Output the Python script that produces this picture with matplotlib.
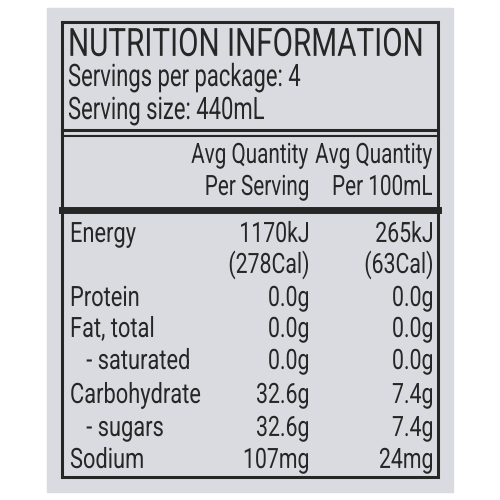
import matplotlib
matplotlib.use("Agg")
import matplotlib.pyplot as plt
from matplotlib.patches import Rectangle, PathPatch
from matplotlib.textpath import TextPath
from matplotlib.font_manager import FontProperties
from matplotlib.transforms import Affine2D

title = "NUTRITION INFORMATION"
servings = ["Servings per package: 4", "Serving size: 440mL"]
col_heads = [("Avg Quantity", "Per Serving"), ("Avg Quantity", "Per 100mL")]
nutrients = ["Energy", "", "Protein", "Fat, total", "   - saturated", "Carbohydrate", "   - sugars", "Sodium"]
per_serving = ["1170kJ", "(278Cal)", "0.0g", "0.0g", "0.0g", "32.6g", "32.6g", "107mg"]
per_100ml = ["265kJ", "(63Cal)", "0.0g", "0.0g", "0.0g", "7.4g", "7.4g", "24mg"]
row_y = [232, 263, 296, 327, 359, 393, 426, 458]

prop = FontProperties(family="Roboto")
ink = "#262626"
fig = plt.figure(figsize=(5, 5), dpi=100)
ax = fig.add_axes([0, 0, 1, 1])
ax.set_xlim(0, 500); ax.set_ylim(500, 0); ax.axis("off")
fig.patch.set_facecolor("white")
ax.add_patch(Rectangle((47, 8), 406, 484, color="#dadbe0", zorder=0))
ax.add_patch(Rectangle((62, 22), 376, 455, fill=False, lw=2.2, ec=ink))
ax.plot([62, 438], [130, 130], color=ink, lw=2.2)
ax.plot([62, 438], [136, 136], color=ink, lw=1.5)
ax.plot([62, 438], [210, 210], color=ink, lw=5)

def txt(x, yc, s, size, sx, right=False):
    if not s:
        return
    tp = TextPath((0, 0), s, size=size, prop=prop)
    w = tp.get_extents().x1 * sx
    x0 = x - w if right else x
    base = yc + 0.711 * size / 2
    t = Affine2D().scale(sx, -1).translate(x0, base)
    ax.add_patch(PathPatch(t.transform_path(tp), fc=ink, ec="none"))

txt(68, 42, title, 39, 0.76)
for s, y in zip(servings, [75, 108]):
    txt(68, y, s, 31, 0.71)
for (a, b), x in zip(col_heads, [308, 432]):
    txt(x, 153, a, 28, 0.74, True)
    txt(x, 185, b, 28, 0.74, True)
for n, v1, v2, y in zip(nutrients, per_serving, per_100ml, row_y):
    txt(70, y, n, 28, 0.78)
    txt(308, y, v1, 28, 0.76, True)
    txt(432, y, v2, 28, 0.76, True)
fig.savefig("out.png", dpi=100)
